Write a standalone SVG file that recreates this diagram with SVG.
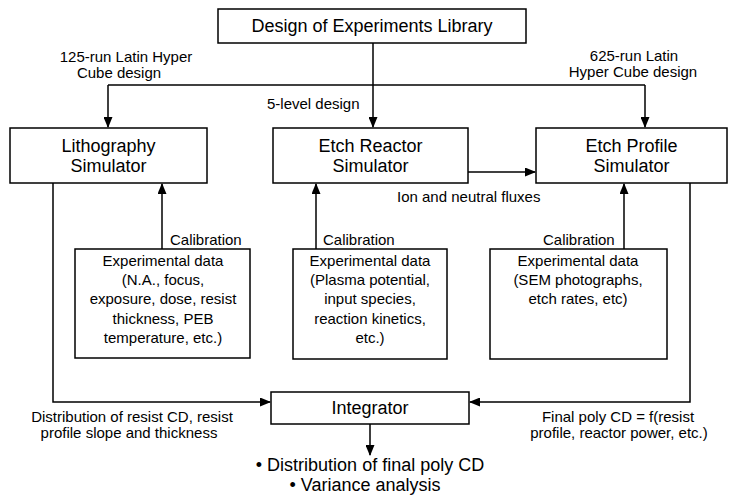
<svg xmlns="http://www.w3.org/2000/svg" width="729" height="497" viewBox="0 0 729 497">
<style>
.box{fill:#fff;stroke:#000;stroke-width:1.5}
.t{font-family:"Liberation Sans",Arial,Helvetica,sans-serif;font-size:18px;text-anchor:middle;fill:#000}
.s{font-size:15px}
.st{text-anchor:start}
.e{fill:none;stroke:#000;stroke-width:1.5}
</style>
<defs>
<marker id="ah" markerUnits="userSpaceOnUse" markerWidth="11" markerHeight="9" refX="10" refY="4.5" orient="auto">
<path d="M0,0 L11,4.5 L0,9 z" fill="#000"/>
</marker>
</defs>
<rect width="729" height="497" fill="#fff"/>

<g id="connectors">
<path class="e" d="M373,43 V127" marker-end="url(#ah)"/>
<path class="e" d="M108,85 H645" />
<path class="e" d="M108,85 V127" marker-end="url(#ah)"/>
<path class="e" d="M645,85 V127" marker-end="url(#ah)"/>
<path class="e" d="M468,172 H535" marker-end="url(#ah)"/>
<path class="e" d="M162,249 V184" marker-end="url(#ah)"/>
<path class="e" d="M316,249 V184" marker-end="url(#ah)"/>
<path class="e" d="M624,249 V184" marker-end="url(#ah)"/>
<path class="e" d="M53,183 V402 H270" marker-end="url(#ah)"/>
<path class="e" d="M690,183 V402 H470" marker-end="url(#ah)"/>
<path class="e" d="M370,424 V455" marker-end="url(#ah)"/>
<text class="t s" x="126" y="62">125-run Latin Hyper</text>
<text class="t s" x="119" y="78">Cube design</text>
<text class="t s" x="634" y="61">625-run Latin</text>
<text class="t s" x="633" y="77">Hyper Cube design</text>
<text class="t s st" x="267" y="109">5-level design</text>
<text class="t s st" x="397" y="202">Ion and neutral fluxes</text>
<text class="t s st" x="170" y="245">Calibration</text>
<text class="t s st" x="323" y="245">Calibration</text>
<text class="t s st" x="543" y="245">Calibration</text>
<text class="t s" x="132" y="422">Distribution of resist CD, resist</text>
<text class="t s" x="129" y="438">profile slope and thickness</text>
<text class="t s" x="618" y="422">Final poly CD = f(resist</text>
<text class="t s" x="619" y="438">profile, reactor power, etc.)</text>
</g>

<g id="doe">
<rect class="box" x="218" y="9" width="308" height="34"/>
<text class="t" x="372" y="32">Design of Experiments Library</text>
</g>

<g id="litho">
<rect class="box" x="10" y="128" width="197" height="55"/>
<text class="t" x="108.5" y="152">Lithography</text>
<text class="t" x="108.5" y="172">Simulator</text>
</g>

<g id="reactor">
<rect class="box" x="273" y="128" width="195" height="55"/>
<text class="t" x="370.5" y="152">Etch Reactor</text>
<text class="t" x="370.5" y="172">Simulator</text>
</g>

<g id="profile">
<rect class="box" x="536" y="128" width="191" height="55"/>
<text class="t" x="631.5" y="152">Etch Profile</text>
<text class="t" x="631.5" y="172">Simulator</text>
</g>

<g id="litho-data">
<rect class="box" x="75" y="249" width="175" height="109"/>
<text class="t s" x="163" y="266">Experimental data</text>
<text class="t s" x="163" y="285">(N.A., focus,</text>
<text class="t s" x="163" y="304">exposure, dose, resist</text>
<text class="t s" x="163" y="324">thickness, PEB</text>
<text class="t s" x="163" y="343">temperature, etc.)</text>
</g>

<g id="reactor-data">
<rect class="box" x="293" y="249" width="154" height="110"/>
<text class="t s" x="370" y="266">Experimental data</text>
<text class="t s" x="370" y="285">(Plasma potential,</text>
<text class="t s" x="370" y="304">input species,</text>
<text class="t s" x="370" y="324">reaction kinetics,</text>
<text class="t s" x="370" y="343">etc.)</text>
</g>

<g id="profile-data">
<rect class="box" x="490" y="249" width="177" height="110"/>
<text class="t s" x="578" y="266">Experimental data</text>
<text class="t s" x="578" y="285">(SEM photographs,</text>
<text class="t s" x="578" y="304">etch rates, etc)</text>
</g>

<g id="integrator">
<rect class="box" x="271" y="392" width="198" height="32"/>
<text class="t" x="370" y="414">Integrator</text>
</g>

<g id="results">
<text class="t" x="370" y="471">• Distribution of final poly CD</text>
<text class="t" x="365" y="491">• Variance analysis</text>
</g>
</svg>
